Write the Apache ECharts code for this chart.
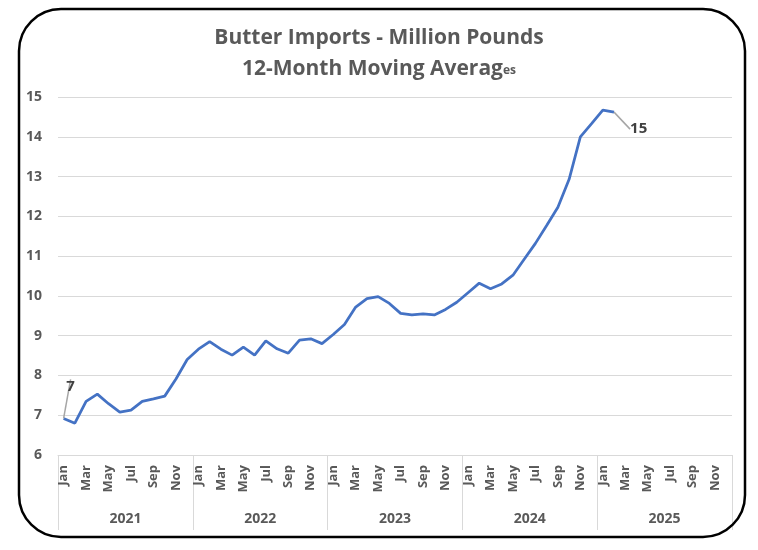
<!DOCTYPE html>
<html>
<head>
<meta charset="utf-8">
<script src="https://cdn.jsdelivr.net/npm/echarts@6/dist/echarts.min.js"></script>
<style>
  html, body { margin: 0; padding: 0; background: #fff; }
  #chart { width: 758px; height: 550px; }
</style>
</head>
<body>
<div id="chart"></div>
<script>
const monthNames = ['Jan', 'Feb', 'Mar', 'Apr', 'May', 'Jun', 'Jul', 'Aug', 'Sep', 'Oct', 'Nov', 'Dec']
const years = ['2021', '2022', '2023', '2024', '2025']
const months = years.flatMap(() => monthNames)

// 12-month moving average, million pounds, Jan 2021 - Feb 2025
const imports = [
  6.92, 6.80, 7.35, 7.53, 7.29, 7.08, 7.13, 7.35, 7.41, 7.48, 7.91, 8.40,
  8.66, 8.85, 8.66, 8.51, 8.71, 8.51, 8.87, 8.67, 8.56, 8.89, 8.92, 8.80,
  9.03, 9.28, 9.72, 9.93, 9.98, 9.81, 9.56, 9.52, 9.55, 9.52, 9.66, 9.84,
  10.08, 10.32, 10.18, 10.30, 10.52, 10.92, 11.32, 11.77, 12.23, 12.93, 14.00, 14.33,
  14.67, 14.62
]

const font = 'Open Sans'
const grey = '#595959'
const last = imports.length - 1

const chart = echarts.init(document.getElementById('chart'))

chart.setOption({
  backgroundColor: '#fff',
  animation: false,
  title: {
    text: 'Butter Imports - Million Pounds\n12-Month Moving Averag{s|es}',
    left: 'center',
    top: 18,
    textStyle: {
      fontFamily: font,
      fontSize: 21,
      fontWeight: 'bold',
      color: grey,
      lineHeight: 31,
      rich: {
        s: { fontFamily: font, fontSize: 12, color: grey, verticalAlign: 'bottom', padding: [0, 0, 8, 0] }
      }
    }
  },
  graphic: [{
    type: 'rect',
    shape: { x: 19, y: 9, width: 726, height: 528, r: 42 },
    style: { fill: 'none', stroke: '#000', lineWidth: 2.5 },
    z: 100
  }],
  grid: { left: 58, right: 26, top: 97, bottom: 95 },
  xAxis: [
    {
      type: 'category',
      data: months,
      axisLine: { lineStyle: { color: '#d9d9d9' } },
      axisTick: { show: false },
      axisLabel: {
        interval: 1,
        rotate: 90,
        margin: 10,
        fontFamily: font,
        fontSize: 13,
        fontWeight: 'bold',
        color: grey
      }
    },
    {
      type: 'category',
      data: years,
      position: 'bottom',
      axisLine: { show: false },
      axisTick: { show: true, length: 75, lineStyle: { color: '#d9d9d9' } },
      axisLabel: {
        margin: 57,
        fontFamily: font,
        fontSize: 14,
        fontWeight: 'bold',
        color: grey
      }
    }
  ],
  yAxis: {
    type: 'value',
    min: 6,
    max: 15,
    interval: 1,
    axisLine: { show: false },
    axisTick: { show: false },
    splitLine: { lineStyle: { color: '#d9d9d9' } },
    axisLabel: {
      margin: 16,
      fontFamily: font,
      fontSize: 14,
      fontWeight: 'bold',
      color: grey
    }
  },
  series: [{
    type: 'line',
    xAxisIndex: 0,
    data: imports.map((v, i) => ({
      value: v,
      label: {
        show: i === 0 || i === last,
        position: i === 0 ? 'top' : 'right'
      }
    })),
    showSymbol: true,
    showAllSymbol: true,
    symbolSize: 0,
    lineStyle: { color: '#4472C4', width: 2.75 },
    itemStyle: { color: '#4472C4' },
    label: {
      formatter: p => Math.round(p.value),
      fontFamily: font,
      fontSize: 15,
      fontWeight: 'bold',
      color: '#404040'
    },
    labelLine: { show: true, lineStyle: { color: '#a6a6a6', width: 1.5 } },
    labelLayout: p => p.dataIndex === 0 ? { dx: 7, dy: -19 } : { dx: 11, dy: 17 }
  }]
})
</script>
</body>
</html>
